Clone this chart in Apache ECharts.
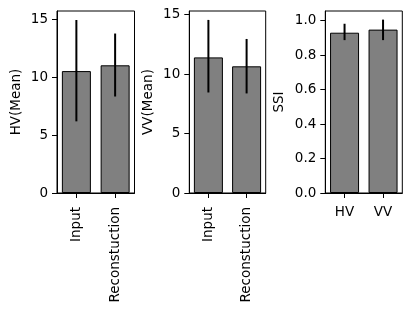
<!DOCTYPE html>
<html>
<head>
<meta charset="utf-8">
<script src="https://cdn.jsdelivr.net/npm/echarts@6/dist/echarts.min.js"></script>
<style>
html,body{margin:0;padding:0;background:#fff;}
#c{width:411px;height:311px;}
</style>
</head>
<body>
<div id="c"></div>
<script>
// ---- data ----
const recCategories = ['Input', 'Reconstuction'];
const hvMean = [10.55, 11.05];
const hvLow = [6.2, 8.35];
const hvHigh = [14.97, 13.8];
const vvMean = [11.4, 10.65];
const vvLow = [8.45, 8.37];
const vvHigh = [14.55, 12.95];
const ssiCategories = ['HV', 'VV'];
const ssiMean = [0.93, 0.948];
const ssiLow = [0.887, 0.887];
const ssiHigh = [0.982, 1.006];
const recTicks = [0, 5, 10, 15];
const ssiTicks = [0, 0.2, 0.4, 0.6, 0.8, 1.0];

const FONT = 'DejaVu Sans';
const FS = 13.5;

const grids = [
  {left: 57, top: 11, width: 77.5, height: 182},
  {left: 189.3, top: 11, width: 76.4, height: 182},
  {left: 325.3, top: 11, width: 77, height: 182}
].map(g => Object.assign({show: true, borderColor: '#000', borderWidth: 1, backgroundColor: 'transparent'}, g));

function xAxis(idx, cats, rotate) {
  return {
    type: 'category', gridIndex: idx, data: cats,
    axisLine: {show: true, lineStyle: {color: '#000', width: 1}},
    axisTick: {show: true, alignWithLabel: true, length: 5, lineStyle: {color: '#000'}},
    axisLabel: {rotate: rotate, margin: rotate ? 14 : 12, color: '#000', fontFamily: FONT, fontSize: FS, interval: 0},
    splitLine: {show: false}
  };
}
function yAxis(idx, name, max, interval, gap, dec) {
  return {
    type: 'value', gridIndex: idx, min: 0, max: max, interval: interval,
    name: name, nameLocation: 'middle', nameGap: gap,
    nameTextStyle: {color: '#000', fontFamily: FONT, fontSize: FS},
    axisLine: {show: true, lineStyle: {color: '#000', width: 1}},
    axisTick: {show: true, length: 5, lineStyle: {color: '#000'}},
    axisLabel: {margin: 9, color: '#000', fontFamily: FONT, fontSize: FS, showMaxLabel: false,
      formatter: v => dec ? v.toFixed(1) : String(v)},
    splitLine: {show: false}
  };
}
function barSeries(idx, data) {
  return {
    type: 'bar', xAxisIndex: idx, yAxisIndex: idx, data: data, barWidth: 29,
    itemStyle: {color: '#808080', borderColor: '#000', borderWidth: 1},
    silent: true, animation: false
  };
}
function errSeries(idx, lo, hi) {
  return {
    type: 'custom', xAxisIndex: idx, yAxisIndex: idx,
    data: lo.map((l, i) => [i, l, hi[i]]),
    renderItem: function (params, api) {
      const a = api.coord([api.value(0), api.value(1)]);
      const b = api.coord([api.value(0), api.value(2)]);
      return {type: 'line', shape: {x1: a[0], y1: a[1], x2: b[0], y2: b[1]},
        style: {stroke: '#000', lineWidth: 2}};
    },
    z: 5, silent: true, animation: false
  };
}

const chart = echarts.init(document.getElementById('c'), null, {renderer: 'canvas'});
chart.setOption({
  animation: false,
  backgroundColor: '#fff',
  grid: grids,
  xAxis: [xAxis(0, recCategories, 90), xAxis(1, recCategories, 90), xAxis(2, ssiCategories, 0)],
  yAxis: [
    yAxis(0, 'HV(Mean)', 15.75, 5, 34, false),
    yAxis(1, 'VV(Mean)', 15.3, 5, 34, false),
    yAxis(2, 'SSI', 1.056, 0.2, 39, true)
  ],
  series: [
    barSeries(0, hvMean), errSeries(0, hvLow, hvHigh),
    barSeries(1, vvMean), errSeries(1, vvLow, vvHigh),
    barSeries(2, ssiMean), errSeries(2, ssiLow, ssiHigh)
  ]
});
</script>
</body>
</html>
